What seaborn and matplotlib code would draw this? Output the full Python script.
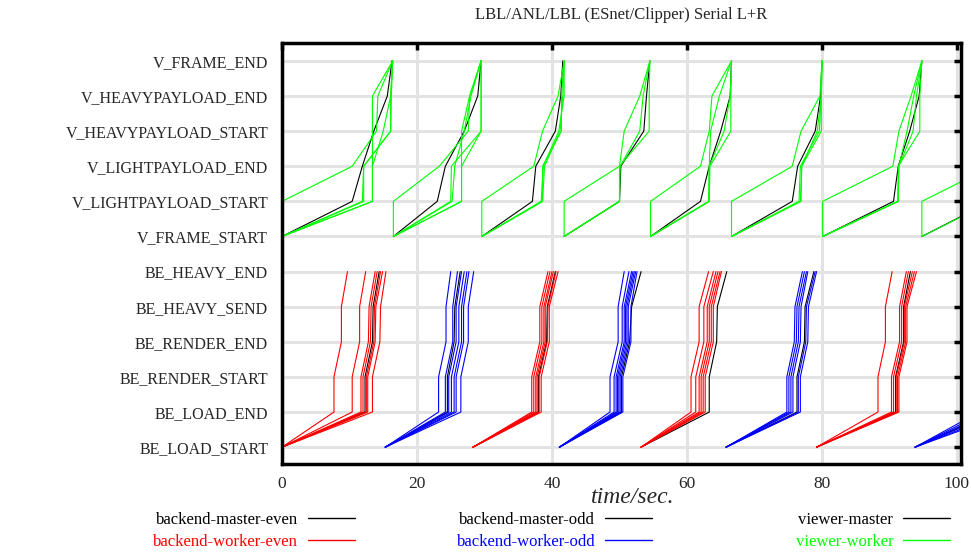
import pandas as pd
import matplotlib.pyplot as plt
import seaborn as sns
from matplotlib.lines import Line2D

# event names, bottom to top
events = ['BE_LOAD_START', 'BE_LOAD_END', 'BE_RENDER_START', 'BE_RENDER_END',
          'BE_HEAVY_SEND', 'BE_HEAVY_END',
          'V_FRAME_START', 'V_LIGHTPAYLOAD_START', 'V_LIGHTPAYLOAD_END',
          'V_HEAVYPAYLOAD_START', 'V_HEAVYPAYLOAD_END', 'V_FRAME_END']

# backend lifelines (sec): LOAD_START, LOAD_END, RENDER_START, RENDER_END, HEAVY_SEND, HEAVY_END
be_master_even = [
    [0, 12.3, 12.3, 13.4, 13.5, 14.4],
    [28.3, 38.0, 38.0, 39.2, 39.3, 40.5],
    [53.2, 63.3, 63.3, 64.4, 64.5, 65.9],
    [79.2, 90.9, 90.9, 92.1, 92.1, 93.1],
]
be_worker_even = [
    [0, 7.7, 7.7, 8.8, 8.8, 9.7],
    [0, 10.4, 10.4, 11.5, 11.5, 12.4],
    [0, 11.7, 11.7, 12.8, 12.9, 13.8],
    [0, 12.0, 12.0, 13.1, 13.2, 14.1],
    [0, 12.5, 12.5, 13.6, 13.7, 14.6],
    [0, 12.7, 12.7, 13.8, 13.9, 14.9],
    [0, 13.4, 13.4, 14.5, 14.6, 15.4],
    [28.3, 37.0, 37.0, 38.2, 38.2, 39.4],
    [28.3, 37.3, 37.3, 38.5, 38.5, 39.7],
    [28.3, 37.6, 37.6, 38.8, 38.8, 40.0],
    [28.3, 37.8, 37.8, 39.0, 39.0, 40.2],
    [28.3, 38.1, 38.1, 39.3, 39.4, 40.6],
    [28.3, 38.4, 38.4, 39.6, 39.6, 40.9],
    [53.2, 60.6, 60.6, 61.8, 61.8, 63.2],
    [53.2, 61.3, 61.3, 62.5, 62.5, 63.9],
    [53.2, 61.8, 61.8, 63.0, 63.0, 64.3],
    [53.2, 62.1, 62.1, 63.3, 63.3, 64.6],
    [53.2, 62.4, 62.4, 63.6, 63.6, 64.9],
    [53.2, 62.7, 62.7, 63.9, 63.9, 65.1],
    [79.2, 88.3, 88.3, 89.4, 89.4, 90.4],
    [79.2, 90.3, 90.3, 91.5, 91.5, 92.5],
    [79.2, 90.6, 90.6, 91.8, 91.8, 92.8],
    [79.2, 91.0, 91.0, 92.2, 92.2, 93.4],
    [79.2, 91.2, 91.2, 92.4, 92.4, 93.7],
    [79.2, 91.4, 91.4, 92.6, 92.6, 94.0],
]
be_master_odd = [
    [15.3, 24.5, 24.5, 25.5, 25.6, 26.4],
    [41.1, 50.3, 50.3, 51.5, 51.8, 53.2],
    [65.8, 76.3, 76.3, 77.4, 77.5, 78.8],
    [93.8, 105.5, 105.5, 106.6, 106.6, 107.6],
]
be_worker_odd = [
    [15.3, 23.2, 23.2, 24.3, 24.3, 25.0],
    [15.3, 24.2, 24.2, 25.3, 25.3, 26.0],
    [15.3, 24.7, 24.7, 25.8, 25.8, 26.6],
    [15.3, 25.1, 25.1, 26.2, 26.2, 27.0],
    [15.3, 25.5, 25.5, 26.6, 26.6, 27.4],
    [15.3, 25.8, 25.8, 26.9, 26.9, 27.7],
    [15.3, 26.5, 26.5, 27.6, 27.6, 28.4],
    [41.1, 48.6, 48.6, 49.8, 49.8, 50.7],
    [41.1, 49.2, 49.2, 50.4, 50.4, 51.4],
    [41.1, 49.5, 49.5, 50.7, 50.7, 51.8],
    [41.1, 49.7, 49.7, 50.9, 50.9, 52.0],
    [41.1, 49.9, 49.9, 51.1, 51.1, 52.2],
    [41.1, 50.1, 50.1, 51.3, 51.3, 52.4],
    [41.1, 50.5, 50.5, 51.7, 51.7, 52.6],
    [65.8, 74.8, 74.8, 75.9, 76.0, 77.1],
    [65.8, 75.1, 75.1, 76.2, 76.3, 77.4],
    [65.8, 75.4, 75.4, 76.5, 76.6, 77.7],
    [65.8, 75.7, 75.7, 76.8, 76.9, 77.9],
    [65.8, 76.5, 76.5, 77.6, 77.7, 79.0],
    [65.8, 76.8, 76.8, 77.9, 78.0, 79.2],
    [93.8, 103.3, 103.3, 104.4, 104.4, 105.4],
    [93.8, 104.2, 104.2, 105.3, 105.3, 106.3],
    [93.8, 105.0, 105.0, 106.1, 106.1, 107.1],
    [93.8, 106.0, 106.0, 107.1, 107.1, 108.1],
    [93.8, 107.0, 107.0, 108.1, 108.1, 109.1],
    [93.8, 108.0, 108.0, 109.1, 109.1, 110.1],
]

# viewer lifelines (sec): FRAME_START, LIGHT_START, LIGHT_END, HEAVY_START, HEAVY_END, FRAME_END
v_master = [
    [0, 10.4, 11.9, 13.6, 15.6, 16.3],
    [16.5, 23.0, 24.2, 27.0, 29.0, 29.5],
    [29.6, 37.1, 37.6, 40.5, 41.3, 41.6],
    [41.8, 50.0, 50.2, 53.6, 54.0, 54.5],
    [54.6, 62.0, 63.3, 65.0, 66.4, 66.6],
    [66.6, 75.6, 76.4, 79.0, 79.8, 80.0],
    [80.1, 90.6, 91.3, 93.0, 94.4, 94.8],
    [94.8, 105.0, 106.0, 108.0, 109.0, 110.0],
]
v_worker = [
    [0, 0, 10.4, 14.0, 14.2, 16.4],
    [0, 13.4, 13.4, 13.4, 13.4, 16.4],
    [0, 12.1, 12.1, 16.1, 16.1, 16.4],
    [0, 11.9, 12.1, 16.1, 16.2, 16.4],
    [0, 13.4, 13.4, 15.0, 16.1, 16.4],
    [16.5, 16.5, 23.3, 27.6, 27.8, 29.5],
    [16.5, 26.6, 26.6, 26.6, 27.8, 29.5],
    [16.5, 25.0, 25.1, 29.5, 29.5, 29.5],
    [16.5, 26.6, 26.6, 29.5, 29.5, 29.5],
    [16.5, 25.2, 25.6, 27.0, 28.0, 29.5],
    [29.6, 29.6, 37.3, 38.6, 40.9, 41.8],
    [29.6, 38.6, 38.6, 41.4, 41.4, 41.8],
    [29.6, 38.6, 38.9, 41.2, 41.6, 41.8],
    [29.6, 38.4, 38.7, 41.0, 41.8, 41.8],
    [41.8, 41.8, 50.0, 50.7, 53.0, 54.5],
    [41.8, 50.0, 50.0, 54.4, 54.4, 54.5],
    [41.8, 50.0, 50.1, 53.0, 53.5, 54.5],
    [54.6, 54.6, 62.0, 63.3, 63.7, 66.6],
    [54.6, 63.3, 63.3, 63.5, 64.8, 66.6],
    [54.6, 63.3, 63.4, 66.5, 66.5, 66.6],
    [54.6, 63.2, 63.3, 65.5, 66.4, 66.6],
    [66.6, 66.6, 75.6, 76.9, 79.7, 80.0],
    [66.6, 76.9, 77.0, 79.9, 79.9, 80.0],
    [66.6, 76.6, 76.8, 79.6, 79.9, 80.0],
    [66.6, 76.8, 77.0, 79.3, 79.9, 80.0],
    [80.1, 80.1, 90.5, 91.4, 93.2, 94.8],
    [80.1, 91.3, 91.3, 94.5, 94.5, 94.8],
    [80.1, 91.3, 91.4, 93.5, 94.0, 94.8],
    [80.1, 91.2, 91.4, 92.6, 93.6, 94.8],
    [94.8, 94.8, 105.2, 106.0, 108.0, 110.0],
    [94.8, 105.2, 105.4, 108.0, 109.0, 110.0],
]

# drawing order: masters underneath workers
roles = {
    'backend-master-even': (be_master_even, 0),
    'backend-master-odd': (be_master_odd, 0),
    'viewer-master': (v_master, 6),
    'backend-worker-even': (be_worker_even, 0),
    'backend-worker-odd': (be_worker_odd, 0),
    'viewer-worker': (v_worker, 6),
}
palette = {
    'backend-master-even': 'black', 'backend-worker-even': '#ff0000',
    'backend-master-odd': 'black', 'backend-worker-odd': '#0000ff',
    'viewer-master': 'black', 'viewer-worker': '#00ff00',
}

rows = []
line_id = 0
for role, (lines, offset) in roles.items():
    for times in lines:
        for k, t in enumerate(times):
            rows.append({'time': t, 'level': offset + k, 'role': role, 'line': line_id})
        line_id += 1
df = pd.DataFrame(rows)

sns.set_style('white')
plt.rcParams['font.family'] = ['Liberation Serif', 'DejaVu Serif']

fig = plt.figure(figsize=(9.71, 5.56), dpi=100)
ax = fig.add_axes([282 / 971, 1 - 464 / 556, 679 / 971, 421 / 556])

sns.lineplot(data=df, x='time', y='level', hue='role', units='line',
             estimator=None, sort=False, palette=palette, hue_order=list(roles),
             lw=0.8, legend=False, ax=ax)

ax.set_xlim(0, 100.6)
ax.set_ylim(-0.48, 11.51)
ax.set_xticks([0, 20, 40, 60, 80, 100])
ax.set_yticks(range(len(events)))
ax.set_yticklabels(events)
ax.grid(True, color='#e3e3e3', lw=2.2)
ax.set_axisbelow(True)
for sp in ax.spines.values():
    sp.set_color('black')
    sp.set_linewidth(2.5)
ax.tick_params(axis='both', direction='in', length=5, width=2.5,
               top=True, right=True, color='black')
ax.tick_params(axis='y', labelsize=11.5, pad=10)
ax.tick_params(axis='x', labelsize=12.5, pad=9)

ax.set_ylabel('')
ax.set_xlabel('time/sec.', fontsize=17, style='italic')
ax.xaxis.set_label_coords(0.516, -0.055)
ax.set_title('LBL/ANL/LBL (ESnet/Clipper) Serial L+R', fontsize=12, pad=17)

# legend, three columns of two entries
columns = [
    (['backend-master-even', 'backend-worker-even'], 355),
    (['backend-master-odd', 'backend-worker-odd'], 652),
    (['viewer-master', 'viewer-worker'], 950),
]
for names, right in columns:
    handles = [Line2D([], [], color=palette[n], lw=1) for n in names]
    leg = fig.legend(handles, names, loc='upper right',
                     bbox_to_anchor=(right / 971, 1 - 512 / 556),
                     frameon=False, markerfirst=False, fontsize=12,
                     handlelength=2.8, handletextpad=0.6, labelspacing=0.35,
                     borderpad=0, borderaxespad=0)
    for txt, n in zip(leg.get_texts(), names):
        txt.set_color(palette[n])

fig.savefig('out.png', dpi=100)
